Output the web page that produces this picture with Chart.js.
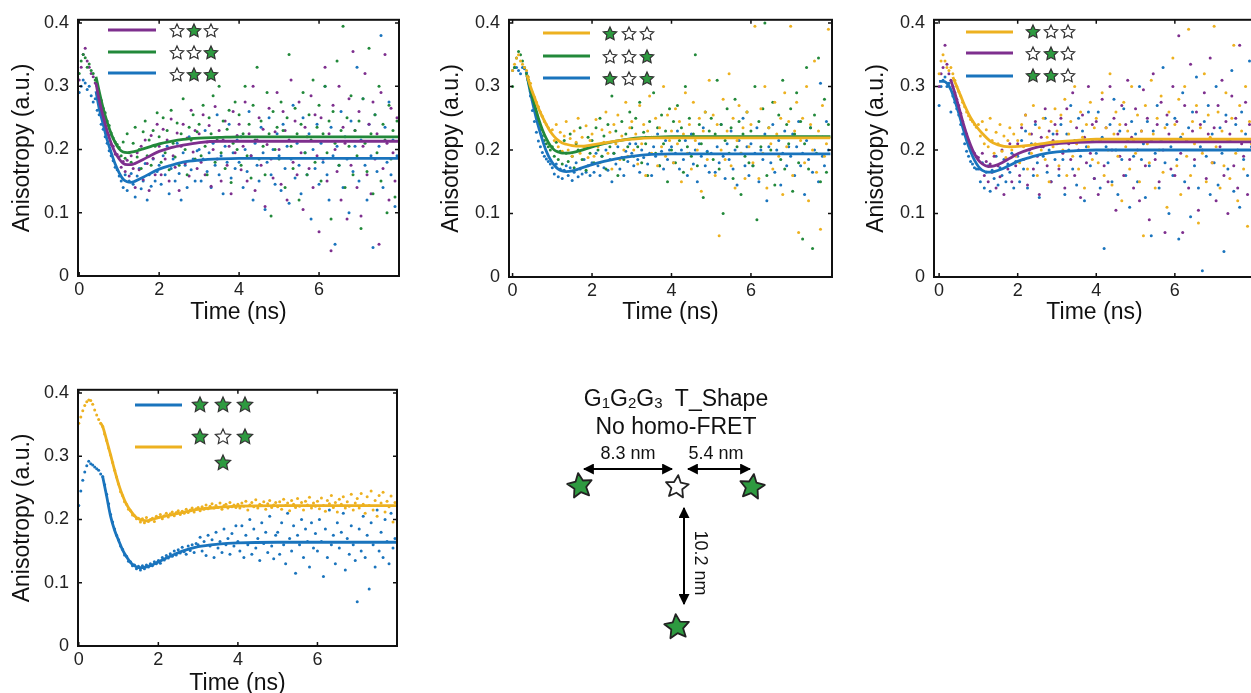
<!DOCTYPE html>
<html><head><meta charset="utf-8">
<script src="https://cdn.jsdelivr.net/npm/chart.js@4.4.0/dist/chart.umd.min.js"></script>
<style>
html,body{margin:0;padding:0;width:1251px;height:693px;overflow:hidden;background:#fff;}
canvas{position:absolute;}
#diagram{position:absolute;left:0;top:0;}
</style></head><body>
<canvas id="c1" width="405" height="330" style="left:5px;top:0px"></canvas>
<canvas id="c2" width="410" height="330" style="left:434px;top:0px"></canvas>
<canvas id="c3" width="400" height="330" style="left:859px;top:0px"></canvas>
<canvas id="c4" width="405" height="331" style="left:5px;top:370px"></canvas>
<svg id="diagram" width="1251" height="693" xmlns="http://www.w3.org/2000/svg">
  <defs>
    <marker id="ah" viewBox="0 0 10 10" refX="9" refY="5" markerWidth="5.5" markerHeight="5.5" orient="auto-start-reverse">
      <path d="M0,0 L10,5 L0,10 z" fill="#000"/>
    </marker>
  </defs>
  <g font-family="Liberation Sans, Arial, sans-serif" fill="#111">
    <text x="676" y="406" text-anchor="middle" font-size="23" xml:space="preserve">G<tspan font-size="15" dy="2">1</tspan><tspan dy="-2">G</tspan><tspan font-size="15" dy="2">2</tspan><tspan dy="-2">G</tspan><tspan font-size="15" dy="2">3</tspan><tspan dy="-2">  T_Shape</tspan></text>
    <text x="676" y="434" text-anchor="middle" font-size="23">No homo-FRET</text>
    <text x="628" y="459" text-anchor="middle" font-size="18">8.3 nm</text>
    <text x="716" y="459" text-anchor="middle" font-size="18">5.4 nm</text>
    <text x="0" y="0" text-anchor="middle" dominant-baseline="central" font-size="18" transform="translate(701,563) rotate(90)">10.2 nm</text>
  </g>
  <g stroke="#000" stroke-width="2" fill="none">
    <line x1="584" y1="469" x2="672" y2="469" marker-start="url(#ah)" marker-end="url(#ah)"/>
    <line x1="688" y1="469" x2="750" y2="469" marker-start="url(#ah)" marker-end="url(#ah)"/>
    <line x1="684" y1="508" x2="684" y2="604" marker-start="url(#ah)" marker-end="url(#ah)"/>
  </g>
  <g id="dstars"></g>
</svg>
<script>
// ---------------- data ----------------
const STEP = 0.05;               // time bin of the scattered data (ns)
const X_TICKS = [0, 2, 4, 6];
const Y_TICKS = [0, 0.1, 0.2, 0.3, 0.4];
const X_LABEL = 'Time (ns)';
const Y_LABEL = 'Anisotropy (a.u.)';

// Panel 1 (purple / green / blue)
const p1Purple = [
.31,.33,.35,.36,.34,.33,.32,.315,.305,.29,.275,.268,.25,.243,.226,.222,.208,.205,.193,.192,
.188,.172,.181,.165,.183,.158,.190,.170,.140,.195,.168,.205,.152,.215,.178,.135,.222,.186,.160,.240,
.205,.160,.232,.185,.215,.150,.248,.190,.172,.226,.135,.205,.240,.178,.218,.158,.262,.196,.230,.170,
.225,.180,.255,.160,.212,.238,.142,.200,.268,.185,.230,.150,.215,.245,.175,.205,.130,.260,.195,.222,
.240,.168,.205,.275,.150,.225,.190,.300,.135,.215,.250,.175,.232,.110,.208,.265,.185,.155,.228,.290,
.200,.145,.260,.230,.120,.215,.310,.180,.245,.160,.275,.195,.105,.235,.220,.170,.285,.140,.255,.190,
.070,.250,.185,.330,.150,.225,.040,.270,.200,.165,.300,.120,.235,.210,.090,.280,.175,.355,.230,.140,
.260,.095,.205,.320,.160,.240,.130,.275,.185,.225,.050,.290,.170,.350,.210,.120,.265,.195,.150,.250];
const p1Green = [
.32,.34,.35,.345,.33,.335,.325,.32,.31,.30,.288,.278,.265,.258,.245,.238,.226,.218,.212,.208,
.203,.190,.212,.186,.225,.195,.180,.210,.235,.188,.200,.170,.228,.245,.190,.215,.175,.230,.205,.258,
.220,.180,.250,.195,.230,.168,.262,.210,.188,.242,.175,.225,.280,.200,.160,.235,.215,.255,.185,.228,
.240,.190,.270,.205,.160,.250,.225,.285,.180,.215,.300,.195,.245,.170,.232,.262,.148,.210,.275,.200,
.255,.175,.225,.300,.190,.240,.155,.270,.215,.330,.185,.245,.205,.160,.290,.225,.095,.260,.200,.235,
.185,.275,.230,.140,.250,.350,.205,.170,.265,.225,.120,.240,.290,.195,.160,.255,.215,.310,.180,.235,
.270,.150,.225,.300,.195,.245,.090,.260,.210,.340,.175,.230,.395,.140,.250,.205,.285,.160,.230,.190,
.245,.075,.280,.210,.165,.360,.225,.130,.255,.195,.300,.150,.240,.215,.100,.270,.185,.230,.125,.245];
const p1Blue = [
.29,.30,.31,.305,.295,.30,.285,.275,.28,.262,.255,.24,.232,.22,.21,.198,.19,.182,.172,.168,
.158,.150,.140,.160,.135,.150,.162,.145,.125,.158,.170,.138,.150,.178,.120,.160,.142,.185,.150,.165,
.175,.145,.190,.160,.205,.130,.170,.185,.150,.210,.162,.120,.195,.175,.140,.220,.168,.185,.150,.198,
.200,.150,.185,.230,.165,.195,.140,.210,.175,.255,.160,.190,.130,.205,.180,.240,.155,.195,.170,.215,
.180,.220,.140,.200,.165,.260,.190,.120,.210,.175,.150,.235,.195,.105,.180,.250,.160,.200,.145,.225,
.190,.135,.240,.170,.205,.115,.185,.270,.155,.210,.175,.130,.250,.195,.160,.225,.090,.200,.170,.240,
.145,.210,.180,.300,.160,.120,.235,.190,.050,.205,.175,.260,.140,.220,.185,.100,.245,.165,.205,.330,
.150,.215,.280,.175,.120,.240,.190,.045,.255,.165,.205,.380,.140,.235,.180,.275,.160,.215,.110,.190];
const p1FitT = [0.42,0.5,0.6,0.7,0.8,0.9,1.0,1.1,1.2,1.3,1.4,1.6,1.8,2.0,2.3,2.6,3.0,3.5,4,5,6,7,8];
const p1FitPurple = [.305,.278,.252,.229,.21,.195,.185,.178,.176,.176,.178,.184,.191,.197,.203,.207,.211,.213,.213,.213,.213,.213,.213];
const p1FitGreen  = [.315,.292,.265,.243,.225,.211,.201,.196,.195,.196,.197,.201,.205,.209,.213,.216,.218,.219,.22,.22,.22,.22,.22];
const p1FitBlue   = [.292,.265,.240,.215,.195,.177,.163,.153,.149,.148,.150,.156,.163,.169,.175,.180,.183,.185,.186,.186,.186,.186,.186];

// Panel 2 (yellow / green / blue)
const p2Yellow = [
.325,.335,.345,.35,.34,.335,.33,.325,.315,.305,.29,.283,.275,.268,.26,.253,.245,.24,.235,.23,
.232,.215,.240,.205,.228,.198,.222,.245,.200,.218,.190,.230,.212,.250,.195,.220,.205,.238,.188,.215,
.225,.190,.248,.205,.180,.232,.212,.260,.195,.228,.170,.240,.210,.255,.185,.222,.200,.275,.190,.235,
.245,.200,.225,.178,.270,.210,.240,.160,.230,.285,.195,.220,.250,.175,.235,.205,.300,.190,.255,.215,
.230,.180,.265,.210,.245,.150,.225,.290,.195,.240,.170,.275,.215,.200,.250,.135,.230,.260,.185,.310,
.220,.255,.160,.240,.065,.200,.280,.185,.230,.320,.175,.250,.140,.215,.270,.195,.235,.155,.260,.205,
.240,.180,.395,.220,.155,.265,.195,.300,.140,.235,.210,.170,.275,.225,.190,.250,.130,.290,.205,.245,
.395,.160,.230,.275,.070,.215,.250,.180,.300,.120,.240,.200,.340,.165,.230,.075,.270,.190,.210,.390];
const p2Green = [
.30,.33,.345,.355,.35,.34,.33,.32,.31,.292,.278,.265,.252,.24,.232,.222,.215,.21,.205,.20,
.205,.190,.212,.185,.198,.178,.215,.195,.182,.225,.190,.172,.210,.200,.235,.185,.205,.168,.220,.195,
.215,.180,.235,.200,.250,.190,.222,.170,.240,.205,.285,.195,.230,.160,.215,.245,.185,.225,.205,.260,
.235,.190,.250,.205,.275,.180,.228,.210,.160,.245,.220,.290,.195,.235,.175,.255,.210,.230,.150,.265,
.200,.245,.180,.270,.215,.235,.165,.300,.205,.250,.190,.225,.350,.175,.240,.210,.125,.260,.195,.230,
.250,.185,.225,.310,.170,.240,.100,.215,.265,.195,.235,.155,.280,.205,.245,.130,.225,.190,.260,.180,
.230,.175,.300,.090,.245,.205,.265,.400,.160,.235,.200,.275,.145,.220,.255,.185,.310,.170,.240,.210,
.265,.135,.225,.290,.180,.245,.060,.210,.330,.170,.235,.045,.255,.195,.345,.150,.220,.280,.165,.240];
const p2Blue = [
.325,.33,.33,.325,.32,.33,.328,.322,.31,.285,.262,.245,.228,.214,.205,.196,.19,.186,.182,.178,
.172,.162,.178,.158,.170,.155,.168,.175,.160,.172,.152,.165,.180,.158,.170,.162,.185,.165,.175,.160,
.180,.165,.195,.175,.160,.190,.172,.200,.168,.185,.150,.195,.178,.205,.170,.188,.160,.198,.182,.210,
.195,.175,.210,.185,.165,.200,.188,.220,.178,.195,.160,.205,.190,.225,.175,.198,.170,.215,.185,.200,
.205,.180,.195,.230,.170,.200,.185,.215,.160,.195,.225,.178,.200,.150,.210,.190,.235,.175,.198,.165,
.195,.220,.165,.205,.180,.240,.190,.155,.210,.185,.230,.170,.200,.145,.215,.195,.250,.175,.205,.160,
.210,.175,.195,.235,.150,.200,.185,.225,.120,.205,.180,.240,.165,.200,.215,.145,.195,.230,.175,.205,
.190,.225,.160,.205,.245,.175,.195,.130,.215,.185,.235,.165,.200,.220,.150,.305,.190,.175,.245,.200];
const p2FitT = [0.36,0.45,0.55,0.65,0.75,0.85,0.95,1.05,1.15,1.25,1.35,1.5,1.7,2.0,2.3,2.6,3.0,3.5,4,5,6,7,8];
const p2FitYellow = [.318,.300,.283,.266,.252,.240,.229,.221,.215,.211,.209,.207,.206,.208,.211,.214,.217,.219,.219,.219,.219,.219,.219];
const p2FitGreen  = [.318,.295,.272,.250,.232,.218,.207,.200,.197,.195,.195,.196,.199,.205,.210,.214,.218,.220,.221,.221,.221,.221,.221];
const p2FitBlue   = [.318,.290,.262,.237,.216,.198,.185,.176,.170,.167,.166,.167,.171,.177,.182,.186,.190,.193,.194,.194,.194,.194,.194];

// Panel 3 (yellow / purple / blue)
const p3Yellow = [
.32,.34,.35,.34,.33,.325,.33,.32,.31,.30,.292,.285,.275,.268,.26,.254,.248,.245,.24,.236,
.240,.222,.245,.210,.232,.205,.250,.215,.195,.228,.210,.240,.198,.222,.188,.215,.235,.200,.225,.190,
.215,.180,.240,.205,.255,.170,.225,.195,.270,.210,.160,.235,.200,.250,.185,.220,.150,.245,.205,.265,
.230,.175,.255,.200,.280,.160,.225,.245,.190,.300,.210,.170,.260,.220,.140,.240,.205,.275,.185,.235,
.250,.180,.215,.290,.160,.235,.200,.320,.145,.225,.260,.190,.240,.120,.275,.205,.230,.170,.300,.215,
.195,.255,.150,.230,.065,.270,.210,.180,.310,.225,.140,.250,.200,.285,.165,.235,.110,.260,.215,.345,
.240,.175,.280,.130,.225,.300,.190,.390,.160,.245,.210,.270,.085,.235,.195,.320,.150,.255,.220,.180,
.395,.205,.260,.140,.230,.175,.290,.215,.155,.250,.365,.195,.120,.270,.230,.170,.300,.080,.245,.210];
const p3Purple = [
.30,.32,.33,.365,.335,.32,.31,.30,.29,.28,.27,.258,.245,.232,.225,.215,.205,.198,.195,.19,
.188,.170,.195,.160,.182,.150,.178,.165,.190,.140,.175,.158,.200,.130,.185,.170,.210,.150,.192,.175,
.210,.160,.235,.185,.255,.145,.200,.225,.170,.245,.190,.130,.220,.205,.265,.175,.230,.150,.215,.240,
.225,.170,.250,.195,.140,.265,.210,.185,.290,.160,.235,.200,.125,.255,.220,.180,.300,.195,.240,.155,
.245,.130,.215,.280,.175,.235,.150,.300,.200,.250,.105,.225,.190,.270,.160,.240,.310,.185,.220,.140,
.265,.200,.120,.230,.295,.175,.250,.090,.215,.320,.185,.240,.150,.275,.200,.070,.255,.225,.170,.300,
.160,.245,.380,.195,.070,.270,.215,.140,.335,.230,.185,.260,.105,.240,.200,.290,.155,.225,.345,.180,
.235,.120,.270,.205,.310,.160,.245,.100,.225,.285,.175,.250,.140,.365,.210,.190,.275,.130,.240,.215];
const p3Blue = [
.27,.30,.31,.315,.30,.305,.26,.285,.275,.265,.255,.24,.225,.21,.198,.19,.182,.178,.172,.17,
.170,.150,.180,.140,.165,.175,.135,.168,.155,.190,.145,.172,.160,.185,.150,.178,.165,.195,.140,.182,
.190,.150,.215,.170,.230,.140,.195,.210,.160,.240,.180,.125,.205,.190,.250,.165,.200,.150,.225,.185,
.210,.160,.240,.185,.130,.225,.200,.270,.170,.215,.145,.250,.190,.230,.120,.205,.260,.175,.215,.155,
.195,.260,.140,.220,.045,.205,.180,.240,.150,.280,.200,.130,.230,.185,.265,.160,.215,.110,.245,.190,
.225,.150,.300,.185,.210,.125,.245,.175,.065,.230,.195,.270,.140,.215,.330,.180,.240,.100,.205,.160,
.250,.185,.060,.220,.290,.150,.215,.235,.095,.260,.175,.315,.140,.205,.010,.245,.190,.270,.130,.225,
.180,.300,.145,.235,.195,.040,.255,.170,.215,.325,.135,.240,.200,.110,.260,.185,.225,.160,.340,.205];
const p3FitYellowT = [0.35,0.45,0.55,0.65,0.75,0.85,0.95,1.1,1.3,1.5,1.8,2.1,2.5,3.0,3.5,4,5,6,7,8];
const p3FitYellow  = [.315,.300,.285,.270,.257,.246,.237,.226,.214,.208,.205,.206,.209,.213,.215,.217,.217,.217,.217,.217];
const p3FitPurpleT = [0.3,0.4,0.5,0.6,0.7,0.8,0.9,1.0,1.1,1.25,1.4,1.6,1.8,2.0,2.3,2.6,3.0,3.5,4,5,6,7,8];
const p3FitPurple  = [.31,.29,.268,.245,.225,.208,.194,.184,.178,.174,.175,.180,.187,.194,.201,.206,.210,.212,.213,.213,.213,.213,.213];
const p3FitBlueT   = [0,0.1,0.2,0.3,0.4,0.5,0.6,0.7,0.8,0.9,1.0,1.1,1.25,1.4,1.6,1.8,2.0,2.3,2.6,3.0,3.5,4,5,6,7,8];
const p3FitBlue    = [.308,.308,.305,.295,.278,.258,.236,.215,.198,.184,.174,.168,.165,.166,.170,.176,.182,.188,.193,.197,.199,.2,.2,.2,.2,.2];

// Panel 4 (blue / yellow)
const p4Yellow = [
.352,.362,.372,.380,.386,.389,.388,.382,.373,.365,.358,.352,.347,.335,.325,.313,.302,.290,.278,.267,
.256,.244,.238,.228,.224,.216,.214,.207,.206,.201,.202,.196,.201,.195,.203,.197,.200,.202,.197,.205,
.203,.208,.201,.206,.210,.204,.209,.212,.206,.211,.214,.208,.213,.210,.216,.211,.215,.218,.212,.217,
.219,.214,.220,.216,.223,.217,.221,.225,.218,.222,.219,.226,.216,.222,.224,.218,.227,.220,.223,.219,
.224,.218,.226,.221,.229,.215,.223,.227,.220,.231,.218,.224,.222,.228,.216,.225,.230,.219,.223,.227,
.220,.228,.216,.232,.222,.226,.214,.230,.224,.219,.233,.221,.227,.215,.229,.223,.235,.218,.226,.221,
.229,.217,.234,.222,.213,.230,.225,.238,.219,.227,.212,.232,.224,.236,.218,.228,.221,.240,.215,.226,
.233,.218,.241,.224,.210,.236,.222,.245,.215,.230,.205,.238,.226,.243,.212,.229,.220,.237,.196,.227];
const p4Blue = [
.222,.245,.262,.275,.285,.292,.288,.286,.283,.280,.278,.272,.268,.255,.240,.225,.208,.196,.185,.175,
.168,.158,.153,.144,.142,.134,.133,.127,.128,.122,.126,.120,.127,.122,.128,.125,.130,.127,.133,.130,
.135,.131,.140,.136,.143,.139,.146,.142,.150,.144,.152,.147,.156,.149,.145,.158,.151,.160,.148,.162,
.160,.172,.150,.165,.143,.175,.158,.168,.140,.180,.155,.165,.148,.185,.160,.170,.145,.178,.158,.190,
.165,.150,.190,.140,.175,.160,.200,.145,.185,.155,.170,.135,.195,.162,.180,.148,.205,.158,.138,.175,
.180,.145,.195,.160,.130,.210,.170,.150,.190,.115,.175,.160,.200,.140,.185,.165,.125,.195,.155,.178,
.150,.200,.165,.110,.185,.140,.215,.160,.175,.130,.195,.155,.180,.210,.120,.170,.145,.190,.160,.135,
.070,.185,.150,.205,.140,.175,.090,.195,.160,.125,.215,.150,.180,.140,.200,.165,.130,.210,.155,.170];
const p4FitYellowT = [0.55,0.6,0.7,0.8,0.9,1.0,1.1,1.2,1.3,1.4,1.5,1.6,1.7,1.8,2.0,2.3,2.6,3.0,3.5,4,5,6,7,8];
const p4FitYellow  = [.352,.347,.325,.302,.278,.256,.238,.224,.214,.206,.201,.199,.198,.199,.203,.207,.211,.216,.219,.221,.222,.222,.222,.222];
const p4FitBlueT   = [0.6,0.7,0.8,0.9,1.0,1.1,1.2,1.3,1.4,1.5,1.6,1.8,2.0,2.3,2.6,3.0,3.5,4,5,6,7,8];
const p4FitBlue    = [.268,.237,.205,.183,.167,.152,.141,.132,.127,.124,.124,.127,.133,.142,.150,.157,.161,.163,.164,.164,.164,.164];

// ---------------- styles ----------------
const FONT = 'Liberation Sans, Arial, sans-serif';
const C = {purple:'#7E2F8E', green:'#22893A', blue:'#1A74BD', yellow:'#EDB120'};
const STAR_GREEN = '#2E9A40';
Chart.defaults.font.family = FONT;

function starPath(ctx, cx, cy, r, rot){
  ctx.beginPath();
  for (let i = 0; i < 10; i++){
    const rad = i % 2 === 0 ? r : r * 0.48;
    const a = -Math.PI/2 + rot + i * Math.PI/5;
    const px = cx + rad*Math.cos(a), py = cy + rad*Math.sin(a);
    if (i === 0) ctx.moveTo(px, py); else ctx.lineTo(px, py);
  }
  ctx.closePath();
}
function drawStar(ctx, cx, cy, r, filled){
  starPath(ctx, cx, cy, r, 0);
  ctx.fillStyle = filled ? STAR_GREEN : '#fff';
  ctx.fill();
  ctx.strokeStyle = '#333'; ctx.lineWidth = 1.2; ctx.stroke();
}

const framePlugin = {
  id: 'frame',
  afterDatasetsDraw(chart){
    const {ctx, chartArea: a, scales: {x, y}} = chart;
    ctx.save();
    ctx.strokeStyle = '#111'; ctx.lineWidth = 2;
    ctx.strokeRect(a.left, a.top, a.right - a.left, a.bottom - a.top);
    ctx.lineWidth = 1.5; ctx.beginPath();
    X_TICKS.forEach(v => { const p = x.getPixelForValue(v);
      ctx.moveTo(p, a.bottom); ctx.lineTo(p, a.bottom - 4);
      ctx.moveTo(p, a.top); ctx.lineTo(p, a.top + 4); });
    Y_TICKS.forEach(v => { const p = y.getPixelForValue(v);
      ctx.moveTo(a.left, p); ctx.lineTo(a.left + 4, p);
      ctx.moveTo(a.right, p); ctx.lineTo(a.right - 4, p); });
    ctx.stroke();
    ctx.restore();
  }
};

function makePanel(id, geo, scatter, fits, legend){
  const canvas = document.getElementById(id);
  const ox = parseFloat(canvas.style.left), oy = parseFloat(canvas.style.top);
  const datasets = [];
  fits.forEach(f => datasets.push({
    type: 'line', data: f.t.map((t, i) => ({x: t, y: f.v[i]})),
    borderColor: f.color, borderWidth: 2.8, pointRadius: 0, fill: false,
    cubicInterpolationMode: 'monotone', order: 0
  }));
  scatter.forEach(s => datasets.push({
    type: 'scatter', data: s.v.map((y, i) => ({x: +(i*STEP).toFixed(2), y})),
    backgroundColor: s.color, pointBackgroundColor: s.color, pointRadius: 1.5,
    pointBorderWidth: 0, borderWidth: 0, order: 1
  }));
  const legendPlugin = {
    id: 'starLegend',
    afterDraw(chart){
      const ctx = chart.ctx;
      ctx.save();
      legend.items.forEach(it => {
        if (it.line){
          ctx.strokeStyle = it.color; ctx.lineWidth = 3; ctx.lineCap = 'butt';
          ctx.beginPath(); ctx.moveTo(it.line[0]-ox, it.line[2]-oy); ctx.lineTo(it.line[1]-ox, it.line[2]-oy); ctx.stroke();
        }
        if (it.stars) it.stars.forEach((f, i) => drawStar(ctx, it.sx[i]-ox, it.sy-oy, legend.r, f));
      });
      ctx.restore();
    }
  };
  new Chart(canvas, {
    type: 'scatter',
    data: {datasets},
    options: {
      responsive: false, animation: false, events: [],
      layout: {padding: {top: geo.padTop, right: geo.padRight, left: 0, bottom: 0}},
      plugins: {legend: {display: false}, tooltip: {enabled: false}},
      scales: {
        x: {
          type: 'linear', min: geo.xmin, max: geo.xmax,
          afterBuildTicks: s => { s.ticks = X_TICKS.map(v => ({value: v})); },
          afterFit: s => { s.height = geo.xh; },
          grid: {display: false, drawTicks: false}, border: {display: false},
          ticks: {padding: 3, color: '#222', maxRotation: 0, font: {size: 18}, callback: v => String(v)},
          title: {display: true, text: X_LABEL, color: '#111', font: {size: 23}, padding: {top: 0, bottom: 4}}
        },
        y: {
          type: 'linear', min: 0, max: geo.ymax,
          afterBuildTicks: s => { s.ticks = Y_TICKS.map(v => ({value: v})); },
          afterFit: s => { s.width = geo.yw; },
          grid: {display: false, drawTicks: false}, border: {display: false},
          ticks: {padding: 9, color: '#222', font: {size: 18}, callback: v => v === 0 ? '0' : v.toFixed(1)},
          title: {display: true, text: Y_LABEL, color: '#111', font: {size: 23}, padding: {top: 4, bottom: 0}}
        }
      }
    },
    plugins: [framePlugin, legendPlugin]
  });
}

makePanel('c1', {padTop: 16, padRight: 11, xh: 54, yw: 73, xmin: -0.03, xmax: 8, ymax: 0.405},
  [{v: p1Green, color: C.green}, {v: p1Purple, color: C.purple}, {v: p1Blue, color: C.blue}],
  [{t: p1FitT, v: p1FitPurple, color: C.purple}, {t: p1FitT, v: p1FitGreen, color: C.green}, {t: p1FitT, v: p1FitBlue, color: C.blue}],
  {r: 7, items: [
    {color: C.purple, line: [108, 156, 30], stars: [0,1,0], sx: [177,194,211], sy: 31},
    {color: C.green,  line: [108, 156, 52], stars: [0,0,1], sx: [177,194,211], sy: 53},
    {color: C.blue,   line: [108, 156, 73], stars: [0,1,1], sx: [177,194,211], sy: 75}]});

makePanel('c2', {padTop: 17, padRight: 12, xh: 53, yw: 75, xmin: -0.09, xmax: 8.04, ymax: 0.405},
  [{v: p2Yellow, color: C.yellow}, {v: p2Green, color: C.green}, {v: p2Blue, color: C.blue}],
  [{t: p2FitT, v: p2FitYellow, color: C.yellow}, {t: p2FitT, v: p2FitGreen, color: C.green}, {t: p2FitT, v: p2FitBlue, color: C.blue}],
  {r: 7, items: [
    {color: C.yellow, line: [543, 590, 33], stars: [1,0,0], sx: [610,629,647], sy: 34},
    {color: C.green,  line: [543, 590, 56], stars: [0,0,1], sx: [610,629,647], sy: 57},
    {color: C.blue,   line: [543, 590, 78], stars: [1,0,1], sx: [610,629,647], sy: 79}]});

makePanel('c3', {padTop: 18, padRight: 4, xh: 53, yw: 75, xmin: -0.13, xmax: 8.04, ymax: 0.405},
  [{v: p3Yellow, color: C.yellow}, {v: p3Purple, color: C.purple}, {v: p3Blue, color: C.blue}],
  [{t: p3FitYellowT, v: p3FitYellow, color: C.yellow}, {t: p3FitPurpleT, v: p3FitPurple, color: C.purple}, {t: p3FitBlueT, v: p3FitBlue, color: C.blue}],
  {r: 7, items: [
    {color: C.yellow, line: [966, 1013, 32], stars: [1,0,0], sx: [1033,1051,1068], sy: 32},
    {color: C.purple, line: [966, 1013, 53], stars: [0,1,0], sx: [1033,1051,1068], sy: 54},
    {color: C.blue,   line: [966, 1013, 76], stars: [1,1,0], sx: [1033,1051,1068], sy: 76}]});

makePanel('c4', {padTop: 15, padRight: 13, xh: 55, yw: 73, xmin: -0.02, xmax: 8.0, ymax: 0.405},
  [{v: p4Yellow, color: C.yellow}, {v: p4Blue, color: C.blue}],
  [{t: p4FitYellowT, v: p4FitYellow, color: C.yellow}, {t: p4FitBlueT, v: p4FitBlue, color: C.blue}],
  {r: 8, items: [
    {color: C.blue,   line: [135, 182, 405], stars: [1,1,1], sx: [200,223,245], sy: 405},
    {color: C.yellow, line: [135, 182, 447]},
    {stars: [1,0,1], sx: [200,223,245], sy: 437},
    {stars: [1], sx: [223], sy: 463}]});

// ---------------- diagram stars ----------------
(function(){
  const g = document.getElementById('dstars');
  const defs = [[580,486,13,true,-0.15],[677,487,12,false,0.1],[752,487,13,true,0.15],[677,627,13,true,-0.1]];
  defs.forEach(([cx,cy,r,filled,rot]) => {
    const pts = [];
    for (let i = 0; i < 10; i++){
      const rad = i % 2 === 0 ? r : r*0.48;
      const a = -Math.PI/2 + rot + i*Math.PI/5;
      pts.push((cx + rad*Math.cos(a)).toFixed(1) + ',' + (cy + rad*Math.sin(a)).toFixed(1));
    }
    const p = document.createElementNS('http://www.w3.org/2000/svg', 'polygon');
    p.setAttribute('points', pts.join(' '));
    p.setAttribute('fill', filled ? STAR_GREEN : '#fff');
    p.setAttribute('stroke', '#222'); p.setAttribute('stroke-width', '1.8');
    p.setAttribute('stroke-linejoin', 'round');
    g.appendChild(p);
  });
})();
</script>
</body></html>
